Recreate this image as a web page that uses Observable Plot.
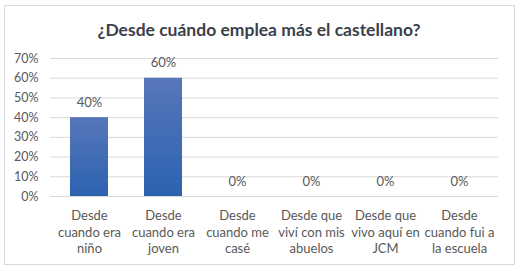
<!DOCTYPE html>
<html><head><meta charset="utf-8">
<script src="https://cdn.jsdelivr.net/npm/d3@7"></script>
<script src="https://cdn.jsdelivr.net/npm/@observablehq/plot@0.6"></script>
<style>
body{margin:0;background:#fff;font-family:Lato,"Open Sans",sans-serif;}
#wrap{position:relative;width:520px;height:271px;overflow:hidden;}
#frame{position:absolute;left:4px;top:5px;width:509px;height:258px;border:1px solid #d9d9d9;box-sizing:content-box;}
#title{position:absolute;left:0;top:19px;width:518px;text-align:center;font-weight:bold;font-size:17.5px;color:#3b3f4a;}
#chart{position:absolute;left:0;top:40px;}
</style></head>
<body><div id="wrap"><div id="frame"></div><div id="title">¿Desde cuándo emplea más el castellano?</div><div id="chart"></div></div>
<script>
const categories = ["Desde\ncuando era\nniño", "Desde\ncuando era\njoven", "Desde\ncuando me\ncasé", "Desde que\nviví con mis\nabuelos", "Desde que\nvivo aquí en\nJCM", "Desde\ncuando fui a\nla escuela"];
const values = [0.40, 0.60, 0, 0, 0, 0];
const yTicks = [0, 0.1, 0.2, 0.3, 0.4, 0.5, 0.6, 0.7];

const data = categories.map((c, i) => ({cat: c, v: values[i]}));
const fmt = d3.format(".0%");

const plot = Plot.plot({
  width: 520,
  height: 225,
  marginLeft: 50,
  marginRight: 22,
  marginTop: 18,
  marginBottom: 69,
  style: {fontFamily: "Lato, 'Open Sans', sans-serif", color: "#595959", background: "transparent"},
  x: {domain: categories, paddingInner: 0.49, paddingOuter: 0.245, label: null},
  y: {domain: [0, 0.7], label: null},
  marks: [
    () => {
      const ns = "http://www.w3.org/2000/svg";
      const defs = document.createElementNS(ns, "defs");
      defs.innerHTML = `<linearGradient id="barGrad" x1="0" y1="0" x2="0" y2="1"><stop offset="0" stop-color="#5777ba"/><stop offset="1" stop-color="#2c62b0"/></linearGradient>`;
      return defs;
    },
    Plot.gridY(yTicks, {stroke: "#d9d9d9", strokeOpacity: 1, strokeWidth: 1}),
    Plot.axisY({ticks: yTicks, tickFormat: fmt, tickSize: 0, tickPadding: 12, fontSize: 12.5, fill: "#595959", label: null}),
    Plot.axisX({tickSize: 0, tickPadding: 12, fontSize: 13, lineHeight: 1.27, fill: "#595959", label: null, textAnchor: "middle", lineAnchor: "top"}),
    Plot.barY(data, {x: "cat", y: "v", fill: "url(#barGrad)"}),
    Plot.text(data, {x: "cat", y: "v", text: d => fmt(d.v), dy: -15, fontSize: 13, fill: "#595959"})
  ]
});
document.getElementById("chart").appendChild(plot);
</script>
</body></html>
